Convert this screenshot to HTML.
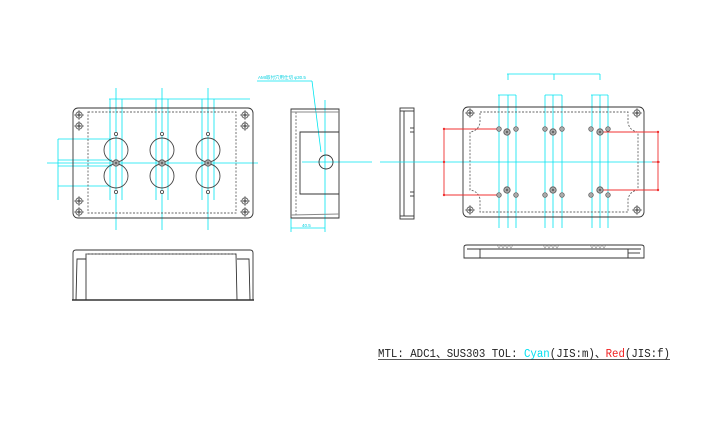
<!DOCTYPE html>
<html><head><meta charset="utf-8"><style>
html,body{margin:0;padding:0;background:#fff;width:720px;height:444px;overflow:hidden}
svg{display:block}
</style></head><body>
<svg width="720" height="444" viewBox="0 0 720 444" xmlns="http://www.w3.org/2000/svg">
<defs>
<g id="scr"><circle r="3.2" fill="none" stroke="#444" stroke-width="0.8"/><circle r="1.6" fill="#888"/><line x1="-5" y1="0" x2="5" y2="0" stroke="#444" stroke-width="0.6"/><line x1="0" y1="-5" x2="0" y2="5" stroke="#444" stroke-width="0.6"/></g>
<g id="sh"><circle r="2.3" fill="#aaa" stroke="#555" stroke-width="0.7"/></g>
<g id="bh"><circle r="3.2" fill="#aaa" stroke="#555" stroke-width="0.8"/><circle r="1.2" fill="#666"/></g>
</defs>
<!-- FRONT VIEW cyan -->
<g stroke="#00e5f0" stroke-width="0.8" fill="none">
<line x1="47" y1="163" x2="258" y2="163"/>
<line x1="58" y1="160" x2="112" y2="160"/><line x1="58" y1="166" x2="112" y2="166"/>
<line x1="58" y1="139" x2="110" y2="139"/><line x1="58" y1="186" x2="110" y2="186"/>
<line x1="58" y1="139" x2="58" y2="200"/>
<line x1="109" y1="99" x2="250" y2="99"/>
<line x1="116" y1="88" x2="116" y2="230"/><line x1="162" y1="88" x2="162" y2="230"/><line x1="208" y1="88" x2="208" y2="230"/>
<line x1="110" y1="99" x2="110" y2="200"/><line x1="122" y1="99" x2="122" y2="200"/>
<line x1="156" y1="99" x2="156" y2="200"/><line x1="168" y1="99" x2="168" y2="200"/>
<line x1="202" y1="99" x2="202" y2="200"/><line x1="214" y1="99" x2="214" y2="200"/>
</g>
<g stroke="#333" stroke-width="0.9" fill="none">
<rect x="73" y="108" width="180" height="110" rx="5"/>
<rect x="88" y="112" width="148" height="101" stroke-dasharray="2,1.5" stroke="#666"/>
<g fill="none" stroke="#444">
<ellipse cx="116" cy="150" rx="12" ry="12"/><ellipse cx="116" cy="176" rx="12" ry="12"/>
<ellipse cx="162" cy="150" rx="12" ry="12"/><ellipse cx="162" cy="176" rx="12" ry="12"/>
<ellipse cx="208" cy="150" rx="12" ry="12"/><ellipse cx="208" cy="176" rx="12" ry="12"/>
</g>
</g>
<g fill="#fff" stroke="#444" stroke-width="0.8">
<circle cx="116" cy="134" r="1.6"/><circle cx="116" cy="192" r="1.6"/>
<circle cx="162" cy="134" r="1.6"/><circle cx="162" cy="192" r="1.6"/>
<circle cx="208" cy="134" r="1.6"/><circle cx="208" cy="192" r="1.6"/>
</g>
<use href="#bh" x="116" y="163"/><use href="#bh" x="162" y="163"/><use href="#bh" x="208" y="163"/>
<use href="#scr" x="79" y="115"/><use href="#scr" x="79" y="126"/><use href="#scr" x="245" y="115"/><use href="#scr" x="245" y="126"/>
<use href="#scr" x="79" y="201"/><use href="#scr" x="79" y="212"/><use href="#scr" x="245" y="201"/><use href="#scr" x="245" y="212"/>
<!-- SIDE VIEW -->
<g stroke="#00e5f0" stroke-width="0.8" fill="none">
<line x1="302" y1="162" x2="372" y2="162"/>
<line x1="325" y1="100" x2="325" y2="232"/>
<line x1="312" y1="81" x2="321" y2="152"/>
<line x1="257" y1="81" x2="312" y2="81"/>
<line x1="291" y1="218" x2="291" y2="232"/>
<line x1="291" y1="228" x2="325" y2="228"/>
</g>
<text x="258" y="79" font-family="Liberation Sans, Noto Sans CJK JP, sans-serif" font-size="4.5" fill="#00d0e0">AMI取付穴用仕切  φ30.5</text>
<text x="302" y="227" font-family="Liberation Sans, sans-serif" font-size="4.5" fill="#00d0e0">40.5</text>
<g stroke="#333" stroke-width="0.9" fill="none">
<path d="M291 109 L339 109 L339 218 L291 218 Z"/>
<line x1="296" y1="112" x2="296" y2="215" stroke-dasharray="2,1.5" stroke="#666"/>
<path d="M339 132 L300 132 L300 194 L339 194"/>
<line x1="291" y1="112" x2="339" y2="112" stroke="#888"/>
<line x1="291" y1="215" x2="339" y2="214" stroke="#888"/>
<circle cx="326" cy="162" r="7"/>
</g>
<!-- THIN SIDE -->
<g stroke="#333" stroke-width="0.9" fill="none">
<rect x="400" y="108" width="14" height="111"/>
<line x1="404" y1="111" x2="404" y2="216"/>
<line x1="400" y1="111" x2="414" y2="111"/><line x1="400" y1="216" x2="414" y2="216"/>
<line x1="410" y1="128" x2="414" y2="128"/><line x1="410" y1="132" x2="414" y2="132"/>
<line x1="410" y1="192" x2="414" y2="192"/><line x1="410" y1="196" x2="414" y2="196"/>
</g>
<!-- RIGHT VIEW -->
<g stroke="#00e5f0" stroke-width="0.8" fill="none">
<line x1="380" y1="162" x2="660" y2="162"/>
<line x1="507" y1="74" x2="600" y2="74"/>
<line x1="508" y1="74" x2="508" y2="80"/><line x1="554" y1="74" x2="554" y2="80"/><line x1="600" y1="74" x2="600" y2="80"/>
<line x1="498" y1="95" x2="516" y2="95"/><line x1="545" y1="95" x2="562" y2="95"/><line x1="591" y1="95" x2="608" y2="95"/>
<line x1="499" y1="95" x2="499" y2="228"/><line x1="508" y1="95" x2="508" y2="228"/><line x1="516" y1="95" x2="516" y2="228"/>
<line x1="545" y1="95" x2="545" y2="228"/><line x1="553" y1="95" x2="553" y2="228"/><line x1="562" y1="95" x2="562" y2="228"/>
<line x1="592" y1="95" x2="592" y2="228"/><line x1="600" y1="95" x2="600" y2="228"/><line x1="608" y1="95" x2="608" y2="228"/>
</g>
<g stroke="#333" stroke-width="0.9" fill="none">
<rect x="463" y="107" width="181" height="110" rx="5"/>
<path d="M480 112 L628 112 L628 123 Q630 131 638 132 L638 190 Q630 191 628 199 L628 212 L480 212 L480 199 Q478 191 470 190 L470 132 Q478 131 480 123 Z" stroke-dasharray="2,1.5" stroke="#666"/>
</g>
<g stroke="#f03030" stroke-width="0.9" fill="none">
<polyline points="499,129 444,129 444,195 499,195"/>
<polyline points="600,132 658,132 658,190 600,190"/>
<line x1="652" y1="162" x2="660" y2="162"/>
</g>
<g fill="#f03030"><circle cx="444" cy="129" r="1.2"/><circle cx="444" cy="195" r="1.2"/><circle cx="444" cy="162" r="1.2"/><circle cx="658" cy="132" r="1.2"/><circle cx="658" cy="190" r="1.2"/><circle cx="658" cy="162" r="1.2"/></g>
<use href="#sh" x="499" y="129"/><use href="#sh" x="516" y="129"/><use href="#sh" x="545" y="129"/><use href="#sh" x="562" y="129"/><use href="#sh" x="591" y="129"/><use href="#sh" x="608" y="129"/>
<use href="#sh" x="499" y="195"/><use href="#sh" x="516" y="195"/><use href="#sh" x="545" y="195"/><use href="#sh" x="562" y="195"/><use href="#sh" x="591" y="195"/><use href="#sh" x="608" y="195"/>
<use href="#bh" x="507" y="132"/><use href="#bh" x="553" y="132"/><use href="#bh" x="600" y="132"/>
<use href="#bh" x="507" y="190"/><use href="#bh" x="553" y="190"/><use href="#bh" x="600" y="190"/>
<use href="#scr" x="470" y="113"/><use href="#scr" x="637" y="113"/><use href="#scr" x="470" y="210"/><use href="#scr" x="637" y="210"/>
<!-- BOTTOM VIEWS -->
<g stroke="#333" stroke-width="0.9" fill="none">
<path d="M73 300 L73 253 Q73 250 76 250 L250 250 Q253 250 253 253 L253 300 Z"/>
<line x1="72" y1="300" x2="254" y2="300" stroke-width="1.4"/>
<path d="M86 300 L86 254 L236 254 L237 300" stroke-dasharray="none"/>
<line x1="86" y1="254" x2="236" y2="254" stroke-dasharray="2,1.5" stroke="#666"/>
<path d="M76 300 L77 259 L86 259"/><path d="M250 300 L249 259 L237 259"/>
<path d="M464 258 L464 247 Q464 245 467 245 L641 245 Q644 245 644 247 L644 258 Z"/>
<line x1="467" y1="249" x2="641" y2="249"/>
<line x1="480" y1="249" x2="480" y2="258"/><line x1="628" y1="249" x2="628" y2="258"/><line x1="628" y1="253" x2="640" y2="253"/>
</g>
<g stroke="#888" stroke-width="0.6" fill="none">
<path d="M497 245 l2 3 l2 -3 l2 3 l2 -3 l2 3 l2 -3 l2 3 l2 -3"/>
<path d="M543 245 l2 3 l2 -3 l2 3 l2 -3 l2 3 l2 -3 l2 3 l2 -3"/>
<path d="M590 245 l2 3 l2 -3 l2 3 l2 -3 l2 3 l2 -3 l2 3 l2 -3"/>
</g>
<!-- NOTE -->
<text x="378" y="357" font-family="Liberation Mono, Noto Sans CJK JP, monospace" font-size="11.5" fill="#222" textLength="292" lengthAdjust="spacingAndGlyphs">MTL: ADC1、SUS303  TOL: <tspan fill="#00e0f0">Cyan</tspan>(JIS:m)、<tspan fill="#f02020">Red</tspan>(JIS:f)</text>
<line x1="378" y1="359.5" x2="670" y2="359.5" stroke="#222" stroke-width="0.8"/>
</svg>
</body></html>
